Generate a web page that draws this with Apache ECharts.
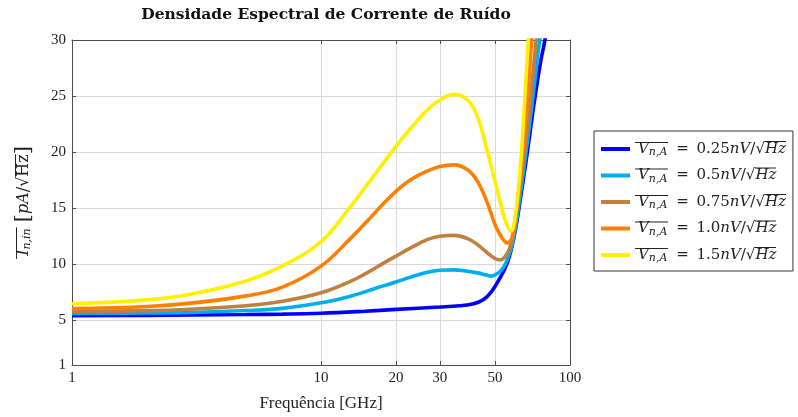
<!DOCTYPE html>
<html>
<head>
<meta charset="utf-8">
<title>Densidade Espectral de Corrente de Ruído</title>
<script src="https://cdn.jsdelivr.net/npm/echarts@6/dist/echarts.min.js"></script>
<style>
  html, body { margin: 0; padding: 0; background: #ffffff; }
  #chart { width: 798px; height: 417px; }
</style>
</head>
<body>
<div id="chart"></div>
<script>
// Frequency ticks (GHz) and current-noise ticks (pA/sqrt(Hz))
const freqTicks = [1, 10, 20, 30, 50, 100];
const noiseTicks = [1, 5, 10, 15, 20, 25, 30];

// Input-referred noise voltage of each curve (nV/sqrt(Hz))
const vnLabels = ['0.25', '0.5', '0.75', '1.0', '1.5'];

// [frequency GHz, noise current pA/sqrt(Hz)]
const vn025 = [
  [1, 5.39], [2, 5.43], [3, 5.46], [5, 5.5], [7, 5.54], [10, 5.62], [15, 5.8],
  [20, 5.96], [30, 6.17], [36, 6.29], [41, 6.47], [45, 6.85], [48.3, 7.53],
  [51.8, 8.6], [56, 10.1], [59.7, 12.5], [63.5, 16.1], [67.6, 20.2],
  [71.8, 24.4], [76.4, 28.2], [79.3, 30], [82, 32.5]
];
const vn050 = [
  [1, 5.6], [2, 5.64], [3, 5.7], [5, 5.86], [7, 6.05], [10, 6.55],
  [13.2, 7.15], [15.3, 7.59], [17.9, 8.08], [20, 8.4], [22.9, 8.84],
  [26.7, 9.28], [30, 9.46], [34.2, 9.49], [38.8, 9.37], [42.5, 9.22],
  [46.6, 9.0], [48.3, 8.93], [51.4, 9.2], [54, 9.7], [56, 10.4], [58.8, 11.9],
  [62.5, 15.5], [66.5, 19.9], [70.8, 24.7], [74, 28.5], [75.6, 30], [78, 32.5]
];
const vn075 = [
  [1, 5.78], [2, 5.85], [3, 5.98], [5, 6.28], [7, 6.68], [10, 7.44],
  [13.2, 8.48], [15.3, 9.22], [17.9, 10.11], [20, 10.71], [22.9, 11.45],
  [26.7, 12.19], [30, 12.49], [34.2, 12.57], [38.8, 12.28], [42.5, 11.74],
  [46.6, 11.0], [50, 10.5], [52.5, 10.37], [54.4, 10.58], [57, 11.3],
  [59.7, 13.4], [63.5, 17.5], [67.6, 22.3], [70.8, 26.7], [73.2, 30], [75.5, 32.5]
];
const vn100 = [
  [1, 6.04], [2, 6.22], [3, 6.52], [5, 7.17], [7, 7.95], [10, 9.82],
  [13.2, 12.34], [15.3, 13.82], [17.9, 15.45], [20, 16.5], [22.9, 17.53],
  [26.7, 18.3], [30, 18.72], [34.2, 18.86], [38.8, 18.42], [42.5, 17.38],
  [46.6, 15.45], [50, 13.52], [52.8, 12.5], [56, 11.9], [58.8, 12.5],
  [61.5, 15.5], [64.5, 19.9], [67.6, 25.0], [70.2, 30], [72, 33]
];
const vn150 = [
  [1, 6.47], [2, 6.81], [3, 7.32], [5, 8.5], [7, 9.84], [10, 12.0],
  [13.2, 15.2], [15.3, 17.08], [20, 20.5], [22.9, 22.1],
  [26.7, 23.75], [30, 24.64], [34.2, 25.15], [38.8, 24.64], [42.5, 23.16],
  [46.6, 20.05], [50, 17.38], [52.8, 15.3], [55.3, 13.7], [57.8, 12.95],
  [60.3, 14.3], [63.5, 19.3], [65.5, 24.0], [67.6, 29.1], [69, 32.5]
];

const seriesData = [vn025, vn050, vn075, vn100, vn150];
const seriesColors = ['#0000ff', '#00adef', '#bf8040', '#ff8000', '#fff000'];

const SERIF = '"Liberation Serif", "DejaVu Serif", serif';
const MATH = '"DejaVu Serif", "Liberation Serif", serif';
const INK = '#222222';

// Thin horizontal rule used as a rich-text background (overline / vinculum)
function rule(height, row) {
  const c = document.createElement('canvas');
  c.width = 1;
  c.height = height;
  const ctx = c.getContext('2d');
  ctx.fillStyle = INK;
  ctx.fillRect(0, row, 1, 1);
  return c;
}

const LH = 20;      // line box height
const SUBPAD = 7;   // subscript drop (padding top)

function mathRich(fs, over, rad) {
  const base = { fontFamily: MATH, fontSize: fs, color: INK, height: LH, lineHeight: LH };
  return {
    g: Object.assign({}, base, { width: 3, backgroundColor: { image: rule(LH, over) } }),
    v: Object.assign({}, base, { fontStyle: 'italic', backgroundColor: { image: rule(LH, over) } }),
    s: Object.assign({}, base, {
      fontStyle: 'italic', fontSize: Math.round(fs * 0.7),
      height: LH - SUBPAD,
      padding: [SUBPAD, 1, 0, 0],
      backgroundColor: { image: rule(LH, over) }
    }),
    q: Object.assign({}, base, { padding: [0, 3, 0, 3] }),
    e: Object.assign({}, base),
    i: Object.assign({}, base, { fontStyle: 'italic' }),
    r: Object.assign({}, base),
    h: Object.assign({}, base, { fontStyle: 'italic', backgroundColor: { image: rule(LH, rad) } }),
    u: Object.assign({}, base, { backgroundColor: { image: rule(LH, rad) } }),
    b: Object.assign({}, base, { fontSize: fs + 5 })
  };
}

const legendFormatter = function (name) {
  return '{g| }{v|V}{s|n,A}{q| = }{e|' + name + '}{i|nV}{e|/}{r|√}{h|Hz}';
};

const series = seriesData.map(function (d, k) {
  return {
    name: vnLabels[k],
    type: 'line',
    data: d,
    smooth: 0.4,
    symbol: 'none',
    clip: true,
    lineStyle: { width: 3.6, color: seriesColors[k] },
    itemStyle: { color: seriesColors[k] },
    emphasis: { disabled: true },
    z: 2 + k
  };
});

const frameColor = '#4d4d4d';
const gridColor = '#d9d9d9';

const chart = echarts.init(document.getElementById('chart'), null, { renderer: 'canvas' });
chart.setOption({
  animation: false,
  backgroundColor: '#ffffff',
  title: {
    text: 'Densidade Espectral de Corrente de Ruído',
    left: 321,
    textAlign: 'center',
    top: 2,
    textStyle: { fontFamily: '"DejaVu Serif", serif', fontWeight: 'bold', fontSize: 15.5, color: '#111' }
  },
  grid: { left: 72, right: 228, top: 40, bottom: 50, containLabel: false },
  legend: {
    orient: 'vertical',
    left: 594,
    top: 131,
    padding: [8, 7, 6, 7],
    itemGap: 6.5,
    itemWidth: 29,
    itemHeight: 4,
    icon: 'rect',
    borderColor: '#333',
    borderWidth: 1,
    borderRadius: 0,
    backgroundColor: '#ffffff',
    data: vnLabels,
    formatter: legendFormatter,
    textStyle: { rich: mathRich(15, 3, 2) },
    selectedMode: false
  },
  xAxis: [{
    type: 'log',
    logBase: 10,
    min: 1,
    max: 100,
    name: 'Frequência [GHz]',
    nameLocation: 'middle',
    nameGap: 30,
    nameTextStyle: { fontFamily: SERIF, fontSize: 17, color: INK },
    axisLine: { show: true, lineStyle: { color: frameColor, width: 1 } },
    axisTick: { show: true, inside: true, length: 4, customValues: freqTicks, lineStyle: { color: frameColor } },
    axisLabel: { customValues: freqTicks, margin: 6, fontFamily: SERIF, fontSize: 15, color: INK },
    splitLine: { show: true, lineStyle: { color: gridColor, width: 1 } },
    minorTick: { show: false },
    minorSplitLine: { show: false }
  }, {
    type: 'log',
    logBase: 10,
    min: 1,
    max: 100,
    position: 'top',
    axisLine: { show: true, lineStyle: { color: frameColor, width: 1 } },
    axisTick: { show: true, inside: true, length: 4, customValues: freqTicks, lineStyle: { color: frameColor } },
    axisLabel: { show: false, customValues: freqTicks },
    splitLine: { show: false }
  }],
  yAxis: [{
    type: 'value',
    min: 1,
    max: 30,
    name: '{g| }{v|I}{s|n,in}{e| }{b|[}{i|pA}{e|/}{r|√}{u|Hz}{b|]}',
    nameLocation: 'middle',
    nameGap: 38,
    nameTextStyle: { rich: mathRich(16, 2, 1) },
    axisLine: { show: true, lineStyle: { color: frameColor, width: 1 } },
    axisTick: { show: true, inside: true, length: 4, customValues: noiseTicks, lineStyle: { color: frameColor } },
    axisLabel: { customValues: noiseTicks, margin: 6, fontFamily: SERIF, fontSize: 15, color: INK },
    splitLine: { show: true, lineStyle: { color: gridColor, width: 1 } }
  }, {
    type: 'value',
    min: 1,
    max: 30,
    position: 'right',
    axisLine: { show: true, lineStyle: { color: frameColor, width: 1 } },
    axisTick: { show: true, inside: true, length: 4, customValues: noiseTicks, lineStyle: { color: frameColor } },
    axisLabel: { show: false, customValues: noiseTicks },
    splitLine: { show: false }
  }],
  series: series
});
</script>
</body>
</html>
